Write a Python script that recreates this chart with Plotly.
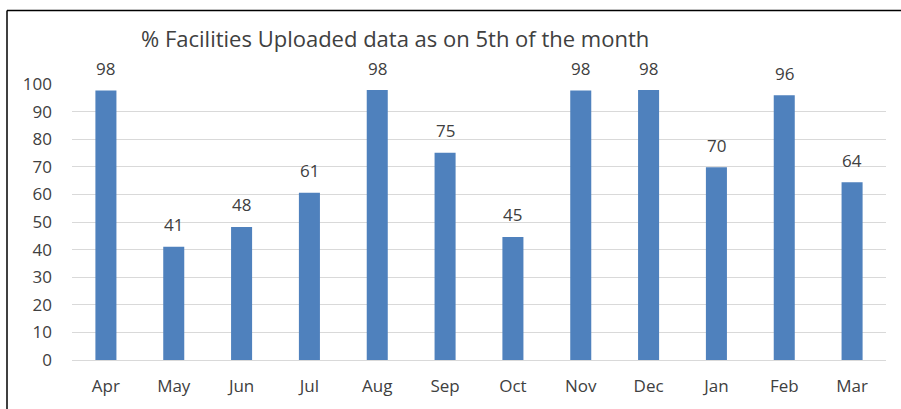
import plotly.graph_objects as go

months = ["Apr", "May", "Jun", "Jul", "Aug", "Sep", "Oct", "Nov", "Dec", "Jan", "Feb", "Mar"]
uploaded_pct = [97.6, 41.0, 48.2, 60.6, 97.8, 75.1, 44.6, 97.6, 97.8, 69.8, 95.9, 64.4]
y_ticks = [0, 10, 20, 30, 40, 50, 60, 70, 80, 90, 100]
title_text = "% Facilities Uploaded data as on 5th of the month"

W, H = 901, 409
L, R, T, B = 72, 15, 84, 47
pw, ph = W - L - R, H - T - B

txt_color = "#404040"
font_family = "Open Sans, Lato, Liberation Sans, sans-serif"

fig = go.Figure(go.Bar(
    x=months, y=uploaded_pct,
    marker=dict(color="#4F81BD", line=dict(width=0)),
    hoverinfo="x+y",
))

def px_x(px):
    return (px - L) / pw

def px_y(py):
    return (H - B - py) / ph

annotations = [dict(
    text=title_text, xref="paper", yref="paper",
    x=px_x(395), y=px_y(38), xanchor="center", yanchor="middle",
    showarrow=False, font=dict(size=22, color=txt_color, family=font_family),
)]
for m, v in zip(months, uploaded_pct):
    annotations.append(dict(
        x=m, y=v, xref="x", yref="y", text=f"{v:.0f}", showarrow=False,
        xanchor="center", yanchor="middle", yshift=22,
        font=dict(size=17, color=txt_color, family=font_family),
    ))

fig.update_layout(
    width=W, height=H,
    margin=dict(l=L, r=R, t=T, b=B),
    paper_bgcolor="white", plot_bgcolor="white",
    bargap=0.69,
    showlegend=False,
    font=dict(family=font_family, color=txt_color),
    annotations=annotations,
    shapes=[
        dict(type="line", xref="paper", yref="paper",
             x0=px_x(7), x1=px_x(905), y0=px_y(10), y1=px_y(10),
             line=dict(color="black", width=1.5)),
        dict(type="line", xref="paper", yref="paper",
             x0=px_x(7), x1=px_x(7), y0=px_y(10), y1=px_y(412),
             line=dict(color="black", width=1.5)),
    ],
)
fig.update_xaxes(
    showgrid=False, showline=False, zeroline=False,
    tickfont=dict(size=17, color=txt_color, family=font_family),
    ticks="", ticklabelstandoff=14,
)
fig.update_yaxes(
    range=[0, 100], tickvals=y_ticks, showgrid=True, gridcolor="#D9D9D9", gridwidth=1.3,
    zeroline=True, zerolinecolor="#D9D9D9", zerolinewidth=1.3, showline=False,
    tickfont=dict(size=17, color=txt_color, family=font_family),
    ticks="", ticklabelstandoff=19,
)

fig.write_html("out.html", config={"displayModeBar": False},
               post_script="document.body.style.margin='0';")
